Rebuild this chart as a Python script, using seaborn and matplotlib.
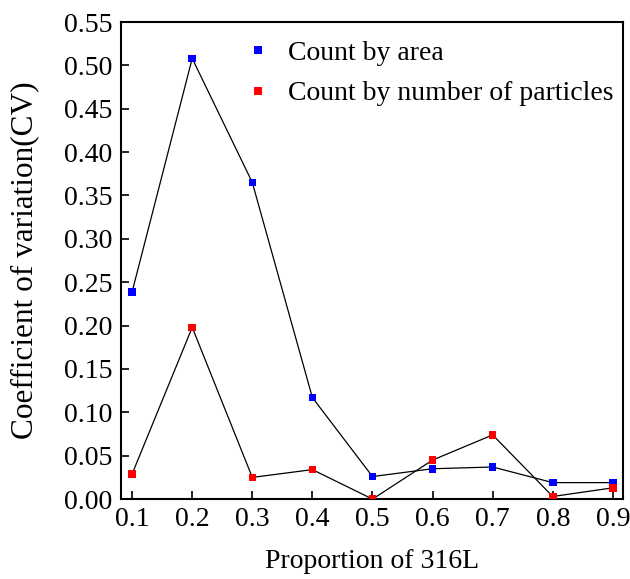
import matplotlib
matplotlib.use("Agg")
import matplotlib.pyplot as plt
import seaborn as sns
import pandas as pd

proportion = [0.1, 0.2, 0.3, 0.4, 0.5, 0.6, 0.7, 0.8, 0.9]
cv_area = [0.239, 0.508, 0.365, 0.117, 0.026, 0.035, 0.037, 0.019, 0.019]
cv_number = [0.029, 0.198, 0.025, 0.034, 0.000, 0.045, 0.074, 0.003, 0.013]
series_names = ["Count by area", "Count by number of particles"]
series_colors = ["#0000ff", "#ff0000"]
x_ticks = [0.1, 0.2, 0.3, 0.4, 0.5, 0.6, 0.7, 0.8, 0.9]
y_ticks = [0.00, 0.05, 0.10, 0.15, 0.20, 0.25, 0.30, 0.35, 0.40, 0.45, 0.50, 0.55]

df = pd.DataFrame({
    "x": proportion * 2,
    "cv": cv_area + cv_number,
    "series": [series_names[0]] * len(proportion) + [series_names[1]] * len(proportion),
})

sns.set_theme(style="ticks")
plt.rcParams["font.family"] = ["Liberation Serif", "DejaVu Serif"]
plt.rcParams["text.color"] = "black"
plt.rcParams["axes.labelcolor"] = "black"

fig = plt.figure(figsize=(6.30, 5.79), dpi=100)
ax = fig.add_axes([0.1916, 0.138, 0.7974, 0.824])

for name in series_names:
    sub = df[df["series"] == name]
    sns.lineplot(data=sub, x="x", y="cv", color="black", linewidth=0.9,
                 ax=ax, legend=False, zorder=2)

sns.scatterplot(data=df, x="x", y="cv", hue="series", hue_order=series_names,
                palette=series_colors, marker="s", s=30, linewidth=0,
                ax=ax, zorder=3)

ax.set_xlim(0.081, 0.917)
ax.set_ylim(0, 0.55)
ax.set_xticks(x_ticks)
ax.set_xticklabels([f"{v:.1f}" for v in x_ticks])
ax.set_yticks(y_ticks)
ax.set_yticklabels([f"{v:.2f}" for v in y_ticks])
ax.tick_params(direction="in", length=6, width=1.2, labelsize=20, colors="black",
               labelcolor="black", top=False, right=False, pad=6)
for sp in ax.spines.values():
    sp.set_linewidth(1.5)
    sp.set_color("black")
    sp.set_visible(True)

ax.set_xlabel("Proportion of 316L", fontsize=20, labelpad=12, color="black")
ax.set_ylabel("Coefficient of variation(CV)", fontsize=22.5, labelpad=18, color="black")

leg = ax.legend(loc="upper left", bbox_to_anchor=(0.2515, 0.962), frameon=False,
                fontsize=20, handlelength=0.8, handletextpad=0.68,
                labelspacing=0.55, borderaxespad=0, borderpad=0)
for t in leg.get_texts():
    t.set_color("black")

fig.savefig("out.png", dpi=100)
